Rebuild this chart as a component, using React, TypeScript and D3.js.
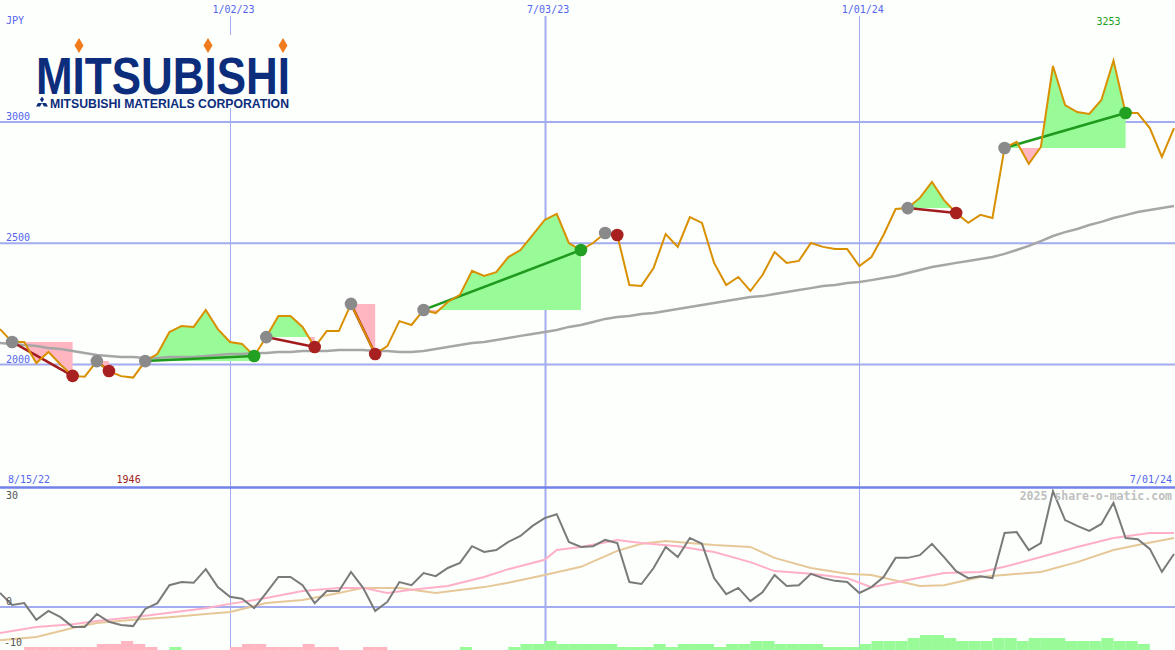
import React from 'react';
import * as d3 from 'd3';

// ---------- data ----------
const START_DATE = new Date(2022, 7, 22);
const END_DATE = new Date(2024, 6, 1);
const DATES: Date[] = d3.timeMonday.range(START_DATE, d3.timeDay.offset(END_DATE, 1));

// weekly close (JPY)
const CLOSE = [
  2146, 2093, 2093, 2006, 2052, 2000, 1953, 1950, 2014, 1973,
  1952, 1946, 2014, 2043, 2134, 2159, 2155, 2225, 2146, 2093,
  2085, 2035, 2113, 2200, 2200, 2155, 2072, 2138, 2138, 2250,
  2146, 2043, 2076, 2179, 2163, 2225, 2212, 2258, 2287, 2386,
  2365, 2381, 2443, 2472, 2534, 2596, 2621, 2501, 2472, 2501,
  2542, 2534, 2328, 2324, 2398, 2538, 2485, 2608, 2584, 2419,
  2328, 2361, 2303, 2369, 2464, 2419, 2427, 2501, 2485, 2476,
  2476, 2406, 2443, 2534, 2641, 2645, 2687, 2753, 2678, 2625,
  2584, 2617, 2604, 2893, 2918, 2827, 2897, 3231, 3070, 3041,
  3033, 3091, 3253, 3037, 3037, 2975, 2856, 2975,
];

// long moving average (JPY)
const MA_LONG = [
  2089, 2085, 2080, 2076, 2068, 2064, 2056, 2047, 2039, 2035,
  2031, 2031, 2027, 2027, 2031, 2031, 2031, 2035, 2039, 2043,
  2043, 2047, 2047, 2052, 2052, 2056, 2056, 2056, 2060, 2060,
  2060, 2056, 2056, 2052, 2052, 2056, 2064, 2072, 2080, 2089,
  2093, 2101, 2109, 2118, 2126, 2134, 2142, 2155, 2163, 2175,
  2188, 2196, 2200, 2208, 2212, 2221, 2229, 2237, 2245, 2254,
  2262, 2270, 2278, 2282, 2291, 2299, 2307, 2315, 2324, 2328,
  2336, 2340, 2348, 2357, 2365, 2377, 2390, 2402, 2410, 2419,
  2427, 2435, 2443, 2456, 2472, 2489, 2509, 2530, 2546, 2559,
  2575, 2588, 2604, 2616, 2629, 2637, 2645, 2654,
];

// trade signals: start / end week index
const SIGNAL_START = [1, 8, 12, 22, 29, 35, 50, 75, 83];
const SIGNAL_END = [6, 9, 21, 26, 31, 48, 51, 79, 93];

// lower panel: momentum
const MOMENTUM = [
  3.6, 0.5, 1.0, -3.3, -1.0, -2.6, -5.1, -5.1, -1.8, -3.8,
  -4.6, -4.9, -0.5, 1.0, 5.6, 6.4, 6.2, 9.7, 5.1, 2.6,
  2.1, -0.3, 3.6, 7.7, 7.7, 5.6, 1.0, 4.1, 4.1, 9.0,
  4.9, -1.0, 1.3, 6.4, 5.6, 8.7, 7.9, 10.0, 11.3, 15.6,
  14.1, 14.6, 16.7, 18.2, 20.8, 22.8, 23.8, 16.7, 15.4, 15.6,
  17.2, 16.4, 6.4, 5.9, 10.0, 15.4, 12.8, 17.7, 16.2, 7.4,
  3.3, 4.9, 1.5, 3.8, 8.2, 5.4, 5.6, 8.5, 7.4, 6.7,
  6.4, 3.6, 5.1, 7.7, 12.6, 12.6, 13.3, 16.2, 12.8, 9.2,
  7.4, 7.9, 7.4, 19.0, 19.2, 14.6, 16.4, 29.7, 22.3, 20.8,
  19.5, 21.3, 26.7, 17.7, 17.4, 14.9, 9.0, 13.6,
];

const PINK_IDX = [0, 3, 6, 8, 11, 14, 17, 19, 22, 25, 28, 30, 32, 34, 37, 40, 42, 45, 46, 48, 51, 53, 56, 59, 62, 64, 67, 70, 72, 75, 78, 81, 83, 86, 89, 92, 95, 97];
const PINK_VAL = [-6.7, -5.1, -4.4, -3.6, -2.6, -1.5, -0.3, 0.8, 2.3, 4.1, 4.9, 4.9, 3.6, 4.4, 5.4, 7.7, 9.7, 12.1, 14.6, 15.4, 17.2, 16.4, 15.6, 14.1, 11.5, 9.2, 8.5, 7.4, 5.1, 6.9, 8.7, 9.0, 10.3, 12.8, 15.4, 17.7, 19.0, 19.0];

const TAN_IDX = [0, 3, 6, 8, 11, 14, 17, 19, 22, 25, 28, 30, 33, 36, 40, 42, 45, 48, 51, 53, 55, 59, 62, 64, 67, 70, 72, 76, 78, 81, 86, 89, 92, 94, 97];
const TAN_VAL = [-8.5, -7.7, -5.4, -4.1, -3.3, -2.6, -1.8, -1.3, 1.0, 1.8, 3.6, 4.9, 4.9, 3.6, 5.1, 6.2, 8.2, 10.3, 14.4, 16.2, 16.9, 15.9, 15.4, 12.6, 10.0, 8.5, 8.2, 5.4, 5.6, 7.7, 9.0, 11.5, 14.6, 15.9, 17.7];

// bottom histogram (signed levels)
const BARS = [
  0, 0, -1, -1, -1, -1, -1, -1, -2, -2,
  -3, -2, -1, 0, 1, 0, 0, 0, 0, -1,
  -2, -2, -1, -1, -1, -2, -1, -1, 0, 0,
  -1, -1, 0, 0, 0, 0, 0, 0, 1, 0,
  0, 0, 1, 2, 2, 3, 2, 2, 2, 2,
  2, 1, 1, 1, 2, 1, 2, 2, 2, 1,
  2, 2, 3, 3, 2, 2, 2, 2, 1, 1,
  1, 2, 3, 3, 3, 4, 5, 5, 4, 3,
  3, 3, 4, 4, 3, 4, 4, 4, 3, 3,
  3, 4, 3, 3, 2, 0, 0, 0,
];

const GRID_DATES = [new Date(2023, 0, 2), new Date(2023, 6, 3), new Date(2024, 0, 1)];
const GRID_DATE_LABELS = ['1/02/23', '7/03/23', '1/01/24'];
const PRICE_TICKS = [2000, 2500, 3000];
const LOWER_TICKS = [30, 0, -10];
const FIRST_LABEL = '8/15/22';
const LAST_LABEL = '7/01/24';

// ---------- layout ----------
const W = 1175;
const H = 650;
const BG = '#fcfffc';
const GRID = '#a3acf0';
const BLUE_TXT = '#5566ee';
const MONO = '"DejaVu Sans Mono", monospace';

export default function App() {
  const n = Math.min(DATES.length, CLOSE.length);
  const x = d3.scaleTime().domain([START_DATE, END_DATE]).range([0, 1174]);
  const y = d3.scaleLinear().domain([2000, 3000]).range([364.5, 122]);
  const y2 = d3.scaleLinear().domain([-10, 30]).range([646, 490]);
  const yb = d3.scaleLinear().domain([0, 5]).range([650, 635]);

  const idx = d3.range(n);
  const xi = (i: number) => x(DATES[i]);

  const priceLine = d3.line<number>().x(xi).y((i) => y(CLOSE[i]))(idx) || '';
  const maLine = d3.line<number>().x(xi).y((i) => y(MA_LONG[i]))(d3.range(Math.min(n, MA_LONG.length))) || '';
  const momLine = d3.line<number>().x(xi).y((i) => y2(MOMENTUM[i]))(d3.range(Math.min(n, MOMENTUM.length))) || '';
  const pinkLine = d3.line<number>().x((k) => xi(PINK_IDX[k])).y((k) => y2(PINK_VAL[k]))(d3.range(PINK_IDX.length)) || '';
  const tanLine = d3.line<number>().x((k) => xi(TAN_IDX[k])).y((k) => y2(TAN_VAL[k]))(d3.range(TAN_IDX.length)) || '';

  const maxI = d3.maxIndex(CLOSE);
  const minI = d3.minIndex(CLOSE);

  const signals = SIGNAL_START.map((s, k) => {
    const e = SIGNAL_END[k];
    const level = y(CLOSE[s]);
    const area = d3.area<number>().x(xi).y0(level).y1((i) => y(CLOSE[i]))(d3.range(s, e + 1)) || '';
    const up = CLOSE[e] >= CLOSE[s];
    return { s, e, level, area, up, k };
  });

  const diamond = (cx: number, cy: number, hw: number, hh: number) =>
    `M${cx},${cy - hh}L${cx + hw},${cy}L${cx},${cy + hh}L${cx - hw},${cy}Z`;

  return (
    <svg width={W} height={H} style={{ position: 'absolute', left: 0, top: 0, display: 'block' }}>
      <defs>
        {signals.map((sg) => (
          <React.Fragment key={sg.k}>
            <clipPath id={`up${sg.k}`}>
              <rect x={0} y={0} width={W} height={sg.level} />
            </clipPath>
            <clipPath id={`dn${sg.k}`}>
              <rect x={0} y={sg.level} width={W} height={H - sg.level} />
            </clipPath>
          </React.Fragment>
        ))}
      </defs>
      <rect x={0} y={0} width={W} height={H} fill={BG} />

      {/* vertical grid */}
      {GRID_DATES.map((d, k) => (
        <line key={k} x1={Math.round(x(d)) + 0.5} x2={Math.round(x(d)) + 0.5} y1={16} y2={H}
          stroke={GRID} strokeWidth={k === 1 ? 2 : 1} />
      ))}
      {/* horizontal grid upper */}
      {PRICE_TICKS.map((v) => (
        <line key={v} x1={0} x2={W} y1={y(v)} y2={y(v)} stroke={GRID} strokeWidth={2} />
      ))}
      {/* lower zero line and separator */}
      <line x1={0} x2={W} y1={y2(0)} y2={y2(0)} stroke={GRID} strokeWidth={2} />
      <line x1={0} x2={W} y1={487.5} y2={487.5} stroke="#7282ea" strokeWidth={2.5} />

      {/* signal fills */}
      {signals.map((sg) => (
        <g key={sg.k}>
          <path d={sg.area} fill="#98fb98" clipPath={`url(#up${sg.k})`} />
          <path d={sg.area} fill="#ffb6c1" clipPath={`url(#dn${sg.k})`} />
        </g>
      ))}

      {/* long MA */}
      <path d={maLine} fill="none" stroke="#a6a6a6" strokeWidth={2.5} />

      {/* signal lines */}
      {signals.map((sg) => (
        <line key={sg.k} x1={xi(sg.s)} y1={y(CLOSE[sg.s])} x2={xi(sg.e)} y2={y(CLOSE[sg.e])}
          stroke={sg.up ? '#1f9a1f' : '#a11c1c'} strokeWidth={2.5} />
      ))}

      {/* price */}
      <path d={priceLine} fill="none" stroke="#d99000" strokeWidth={2} strokeLinejoin="miter" />

      {/* circles */}
      {signals.map((sg) => (
        <g key={sg.k}>
          <circle cx={xi(sg.s)} cy={y(CLOSE[sg.s])} r={6.3} fill="#8a8a8a" />
          <circle cx={xi(sg.e)} cy={y(CLOSE[sg.e])} r={6.3} fill={sg.up ? '#22a022' : '#a82020'} />
        </g>
      ))}

      {/* bottom bars */}
      {idx.map((i) =>
        BARS[i] !== 0 ? (
          <rect key={i} x={xi(i)} width={i + 1 < n ? xi(i + 1) - xi(i) : 12} y={yb(Math.abs(BARS[i]))}
            height={H - yb(Math.abs(BARS[i]))} fill={BARS[i] > 0 ? '#98fb98' : '#ffb6c1'} />
        ) : null
      )}

      {/* lower lines */}
      <path d={tanLine} fill="none" stroke="#e6c898" strokeWidth={2} />
      <path d={pinkLine} fill="none" stroke="#ffb0c8" strokeWidth={2} />
      <path d={momLine} fill="none" stroke="#7a7a7a" strokeWidth={2} />

      {/* texts */}
      <g fontFamily={MONO} fontSize={10}>
        <text x={6} y={24} fill={BLUE_TXT}>JPY</text>
        {GRID_DATES.map((d, k) => (
          <text key={k} x={x(d) + 3.5} y={13} textAnchor="middle" fill={BLUE_TXT}>{GRID_DATE_LABELS[k]}</text>
        ))}
        {PRICE_TICKS.map((v) => (
          <text key={v} x={6} y={y(v) - 2} fill={BLUE_TXT}>{v}</text>
        ))}
        <text x={xi(maxI) - 5} y={25} textAnchor="middle" fill="#22a022">{CLOSE[maxI]}</text>
        <text x={8} y={483} fill={BLUE_TXT}>{FIRST_LABEL}</text>
        <text x={xi(minI) - 4.5} y={483} textAnchor="middle" fill="#a02020">{CLOSE[minI]}</text>
        <text x={1172} y={483} textAnchor="end" fill={BLUE_TXT}>{LAST_LABEL}</text>
        {LOWER_TICKS.map((v, k) => (
          <text key={v} x={k === 2 ? 4 : 6} y={k === 0 ? y2(v) + 9 : k === 1 ? y2(v) - 2 : y2(v)} fill="#555">
            {v}
          </text>
        ))}
        <text x={1172} y={500} textAnchor="end" fill="#c0c0c0" fontWeight="bold" fontSize={11.5}>
          2025 share-o-matic.com
        </text>
      </g>

      {/* logo */}
      <g>
        <rect x={30} y={35} width={266} height={73} fill={BG} />
        <text x={36} y={93.5} fontFamily='"Liberation Sans", Arial, sans-serif' fontWeight="bold" fontSize={52}
          fill="#0c2c7c" textLength={254} lengthAdjust="spacingAndGlyphs">MITSUBISHI</text>
        <path d={diamond(79, 45.5, 4.5, 7.5)} fill="#f07c1e" />
        <path d={diamond(208, 45.5, 4.5, 7.5)} fill="#f07c1e" />
        <path d={diamond(283, 45.5, 4.5, 7.5)} fill="#f07c1e" />
        <path d={diamond(42, 99.5, 2, 3)} fill="#0c2c7c" />
        <path d={`M42,103L38,103L36,106.5L40,106.5Z`} fill="#0c2c7c" />
        <path d={`M42,103L46,103L48,106.5L44,106.5Z`} fill="#0c2c7c" />
        <text x={50} y={107.5} fontFamily='"Liberation Sans", Arial, sans-serif' fontWeight="bold" fontSize={13}
          fill="#0c2c7c" textLength={239} lengthAdjust="spacingAndGlyphs">MITSUBISHI MATERIALS CORPORATION</text>
      </g>
    </svg>
  );
}
